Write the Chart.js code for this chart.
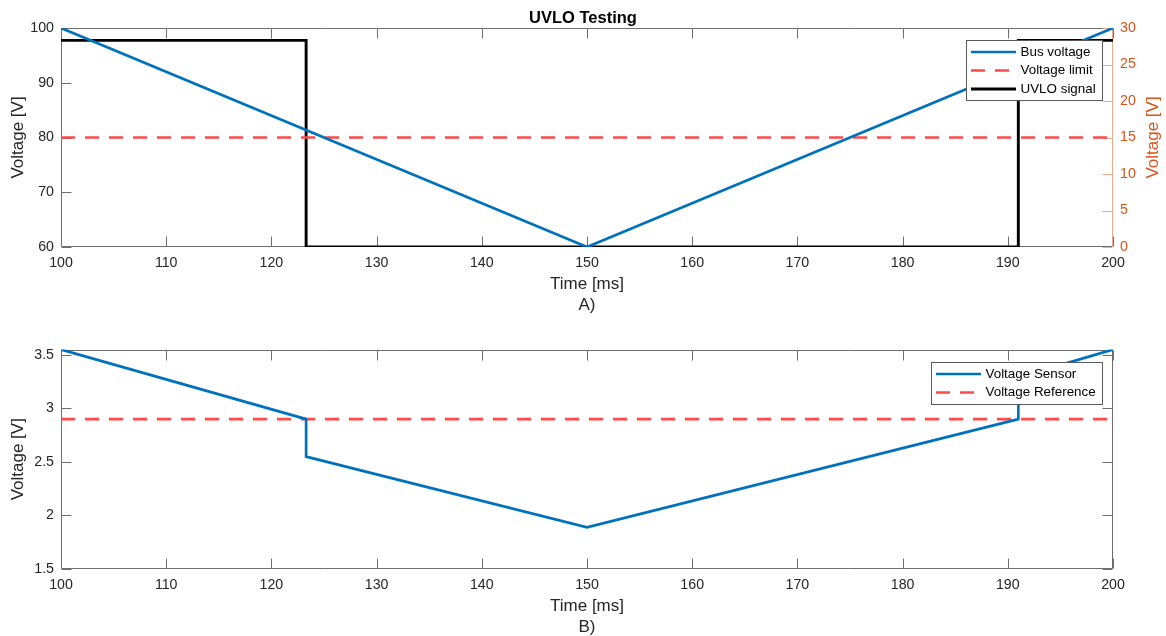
<!DOCTYPE html>
<html>
<head>
<meta charset="utf-8">
<title>UVLO Testing</title>
<script src="https://cdn.jsdelivr.net/npm/chart.js@4/dist/chart.umd.min.js"></script>
<style>
  html, body { margin: 0; padding: 0; background: #fff; overflow: hidden; }
  #wrap { position: relative; width: 1166px; height: 636px; }
  .plot { position: absolute; left: 0; width: 1166px; height: 318px; }
</style>
</head>
<body>
<div id="wrap">
  <div class="plot" style="top:0"><canvas id="uvlo-chart"></canvas></div>
  <div class="plot" style="top:322px"><canvas id="sensor-chart"></canvas></div>
</div>
<script>
// plot A: bus voltage ramp, limit and UVLO output
const busTime = [100, 150, 200]
const busVoltage = [100, 60, 100]
const limitTime = [100, 200]
const voltageLimit = [80, 80]
const uvloTime = [100, 123.3, 123.3, 191, 191, 200]
const uvloSignal = [28.3, 28.3, 0, 0, 28.3, 28.3]

// plot B: sensor output against reference
const sensorTime = [100, 123.3, 123.3, 150, 191, 191, 200]
const sensorVoltage = [3.55, 2.9, 2.55, 1.89, 2.9, 3.29, 3.55]
const refTime = [100, 200]
const refVoltage = [2.9, 2.9]

const timeTicks = [100, 110, 120, 130, 140, 150, 160, 170, 180, 190, 200]
const busTicks = [60, 70, 80, 90, 100]
const uvloTicks = [0, 5, 10, 15, 20, 25, 30]
const sensorTicks = [1.5, 2, 2.5, 3, 3.5]

const BLUE = '#0072BD'
const RED = '#ff4a4a'
const ORANGE = '#D95319'
const TEXT = '#262626'
const FONT = '"Liberation Sans", Arial, Helvetica, sans-serif'
const TICK_SIZE = 14.2
const LABEL_SIZE = 17

Chart.defaults.font.family = FONT
Chart.defaults.color = TEXT

const pts = (xs, ys) => xs.map((x, i) => ({ x: x, y: ys[i] }))
const fixTicks = list => scale => { scale.ticks = list.map(v => ({ value: v })) }
const plain = v => String(v)

// MATLAB style box with inward tick marks
const axesFrame = {
  id: 'axesFrame',
  beforeDatasetsDraw(chart, args, opts) {
    const { ctx, chartArea: a, scales } = chart
    const len = 10
    const L = Math.round(a.left) + 0.5
    const R = Math.round(a.right) - 0.5
    const T = Math.round(a.top) + 0.5
    const B = Math.round(a.bottom) - 0.5
    ctx.save()
    ctx.lineWidth = 1
    ctx.strokeStyle = opts.color
    ctx.beginPath()
    ctx.moveTo(L, T); ctx.lineTo(R, T)
    ctx.moveTo(L, T); ctx.lineTo(L, B)
    ctx.moveTo(L, B); ctx.lineTo(R, B)
    if (!opts.rightScale) { ctx.moveTo(R, T); ctx.lineTo(R, B) }
    scales.x.ticks.forEach(t => {
      const px = Math.round(scales.x.getPixelForValue(t.value)) + 0.5
      ctx.moveTo(px, B); ctx.lineTo(px, B - len)
      ctx.moveTo(px, T); ctx.lineTo(px, T + len)
    })
    scales.y.ticks.forEach(t => {
      const py = Math.round(scales.y.getPixelForValue(t.value)) + 0.5
      ctx.moveTo(L, py); ctx.lineTo(L + len, py)
      if (!opts.rightScale) { ctx.moveTo(R, py); ctx.lineTo(R - len, py) }
    })
    ctx.stroke()

    if (opts.rightScale) {
      const s = scales[opts.rightScale]
      ctx.strokeStyle = opts.rightLine
      ctx.beginPath()
      ctx.moveTo(R, T); ctx.lineTo(R, B)
      s.ticks.forEach(t => {
        const py = Math.round(s.getPixelForValue(t.value)) + 0.5
        ctx.moveTo(R, py); ctx.lineTo(R - len, py)
      })
      ctx.stroke()
      // right axis label reads bottom to top like the left one
      ctx.fillStyle = ORANGE
      ctx.font = LABEL_SIZE + 'px ' + FONT
      ctx.translate(opts.rightTitleX, (a.top + a.bottom) / 2)
      ctx.rotate(-Math.PI / 2)
      ctx.textAlign = 'center'
      ctx.textBaseline = 'middle'
      ctx.fillText(opts.rightTitle, 0, 0)
    }
    ctx.restore()
  }
}

// boxed legend in the upper right corner
const boxLegend = {
  id: 'boxLegend',
  afterDatasetsDraw(chart) {
    const { ctx, chartArea: a } = chart
    const items = chart.data.datasets
    ctx.save()
    ctx.font = '13.4px ' + FONT
    const textW = Math.max(...items.map(d => ctx.measureText(d.label).width))
    const w = Math.round(5 + 45 + 4.5 + textW + 6)
    const h = Math.round(items.length * 18.5 + 4.5)
    const x0 = Math.round(a.right - 11 - w)
    const y0 = Math.round(a.top + 12)
    ctx.fillStyle = '#fff'
    ctx.fillRect(x0, y0, w, h)
    ctx.strokeStyle = '#5a5a5a'
    ctx.lineWidth = 1
    ctx.strokeRect(x0 + 0.5, y0 + 0.5, w, h)
    items.forEach((d, i) => {
      const cy = y0 + 12 + i * 18.5
      ctx.strokeStyle = d.borderColor
      ctx.lineWidth = d.borderWidth
      ctx.setLineDash(d.borderDash || [])
      ctx.beginPath()
      ctx.moveTo(x0 + 5, cy)
      ctx.lineTo(x0 + 50, cy)
      ctx.stroke()
      ctx.setLineDash([])
      ctx.fillStyle = '#000'
      ctx.textBaseline = 'middle'
      ctx.fillText(d.label, x0 + 54.5, cy)
    })
    ctx.restore()
  }
}

function timeAxis(caption) {
  return {
    type: 'linear',
    min: 100,
    max: 200,
    afterBuildTicks: fixTicks(timeTicks),
    afterFit: s => { s.height = 71 },
    grid: { display: false, drawTicks: false },
    border: { display: false },
    ticks: { color: TEXT, font: { size: TICK_SIZE }, padding: 7.5, maxRotation: 0, callback: plain },
    title: {
      display: true,
      text: ['Time [ms]', caption],
      color: TEXT,
      font: { size: LABEL_SIZE, lineHeight: 1.235 },
      padding: { top: 0, bottom: 2.5 }
    }
  }
}

function voltAxis(min, max, list) {
  return {
    type: 'linear',
    position: 'left',
    min: min,
    max: max,
    afterBuildTicks: fixTicks(list),
    afterFit: s => { s.width = 61 },
    grid: { display: false, drawTicks: false },
    border: { display: false },
    ticks: { color: TEXT, font: { size: TICK_SIZE }, padding: 7, callback: plain },
    title: {
      display: true,
      text: 'Voltage [V]',
      color: TEXT,
      font: { size: LABEL_SIZE, lineHeight: 1.2 },
      padding: { top: 8.3, bottom: 0 }
    }
  }
}

const common = {
  responsive: true,
  maintainAspectRatio: false,
  animation: false,
  elements: { point: { radius: 0 }, line: { tension: 0 } },
  plugins: { legend: { display: false }, tooltip: { enabled: false } }
}

new Chart(document.getElementById('uvlo-chart'), {
  type: 'line',
  data: {
    datasets: [
      { label: 'Bus voltage', data: pts(busTime, busVoltage), yAxisID: 'y', borderColor: BLUE, borderWidth: 2.7 },
      { label: 'Voltage limit', data: pts(limitTime, voltageLimit), yAxisID: 'y', borderColor: RED, borderWidth: 2.7, borderDash: [14, 10] },
      { label: 'UVLO signal', data: pts(uvloTime, uvloSignal), yAxisID: 'y2', borderColor: '#000', borderWidth: 2.9 }
    ]
  },
  options: {
    ...common,
    layout: { padding: 0 },
    plugins: {
      ...common.plugins,
      title: {
        display: true,
        text: 'UVLO Testing',
        color: '#000',
        font: { size: 16.5, weight: 'bold', lineHeight: 1.2 },
        padding: { top: 8.1, bottom: 0.1 }
      },
      axesFrame: { color: '#6e6e6e', rightScale: 'y2', rightLine: '#eeab8c', rightTitle: 'Voltage [V]', rightTitleX: 1153 }
    },
    scales: {
      x: timeAxis('A)'),
      y: voltAxis(60, 100, busTicks),
      y2: {
        type: 'linear',
        position: 'right',
        min: 0,
        max: 30,
        afterBuildTicks: fixTicks(uvloTicks),
        afterFit: s => { s.width = 53 },
        grid: { display: false, drawTicks: false },
        border: { display: false },
        ticks: { color: ORANGE, font: { size: TICK_SIZE }, padding: 7, callback: plain },
        title: { display: false }
      }
    }
  },
  plugins: [axesFrame, boxLegend]
})

new Chart(document.getElementById('sensor-chart'), {
  type: 'line',
  data: {
    datasets: [
      { label: 'Voltage Sensor', data: pts(sensorTime, sensorVoltage), borderColor: BLUE, borderWidth: 2.7 },
      { label: 'Voltage Reference', data: pts(refTime, refVoltage), borderColor: RED, borderWidth: 2.7, borderDash: [14, 10] }
    ]
  },
  options: {
    ...common,
    layout: { padding: { top: 27.5, right: 53, left: 0, bottom: 0 } },
    plugins: {
      ...common.plugins,
      axesFrame: { color: '#6e6e6e' }
    },
    scales: {
      x: timeAxis('B)'),
      y: voltAxis(1.5, 3.55, sensorTicks)
    }
  },
  plugins: [axesFrame, boxLegend]
})
</script>
</body>
</html>
